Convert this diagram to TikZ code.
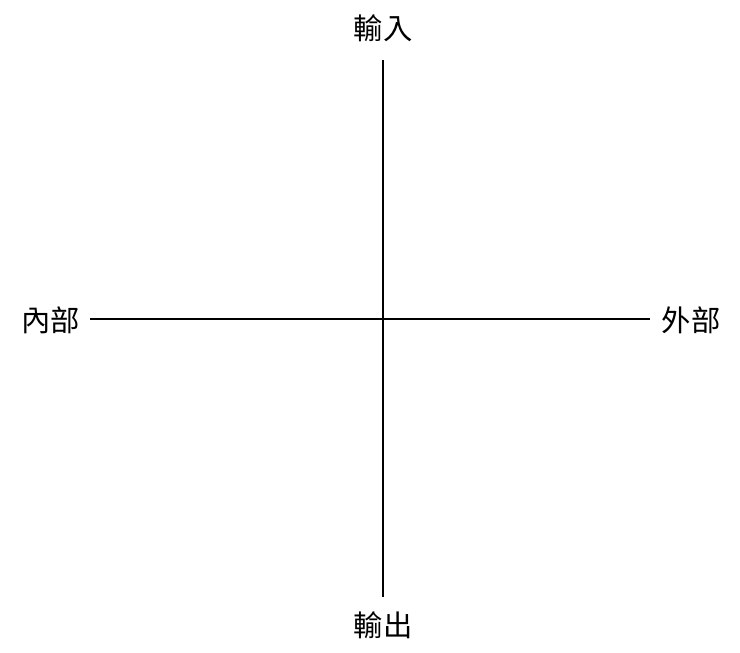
\documentclass[tikz,border=0pt]{standalone}
\usepackage{fontspec}
\newfontfamily\cjk{Noto Sans CJK TC}
\usepackage{tikz}

\begin{document}
\begin{tikzpicture}[x=0.75pt,y=0.75pt,yscale=-1,xscale=1,
  axislabel/.style={inner sep=0.75pt,font=\cjk\fontsize{22}{26}\selectfont}]
\useasboundingbox (0,0) rectangle (740,653);

% Text Node
\node [axislabel] (input) at (383,28) {輸入};
% Text Node
\node [axislabel] (output) at (383,625) {輸出};
% Text Node
\node [axislabel] (inner) at (51,320) {內部};
% Text Node
\node [axislabel] (outer) at (691,320) {外部};

\coordinate (vtop) at (383,60);
\coordinate (vbot) at (383,597);
\coordinate (hleft) at (90,319);
\coordinate (hright) at (650,319);

%Straight Lines
\draw [line width=1.1pt]  (vtop) -- (vbot) ;
%Straight Lines
\draw [line width=1.1pt]  (hleft) -- (hright) ;

\end{tikzpicture}
\end{document}
